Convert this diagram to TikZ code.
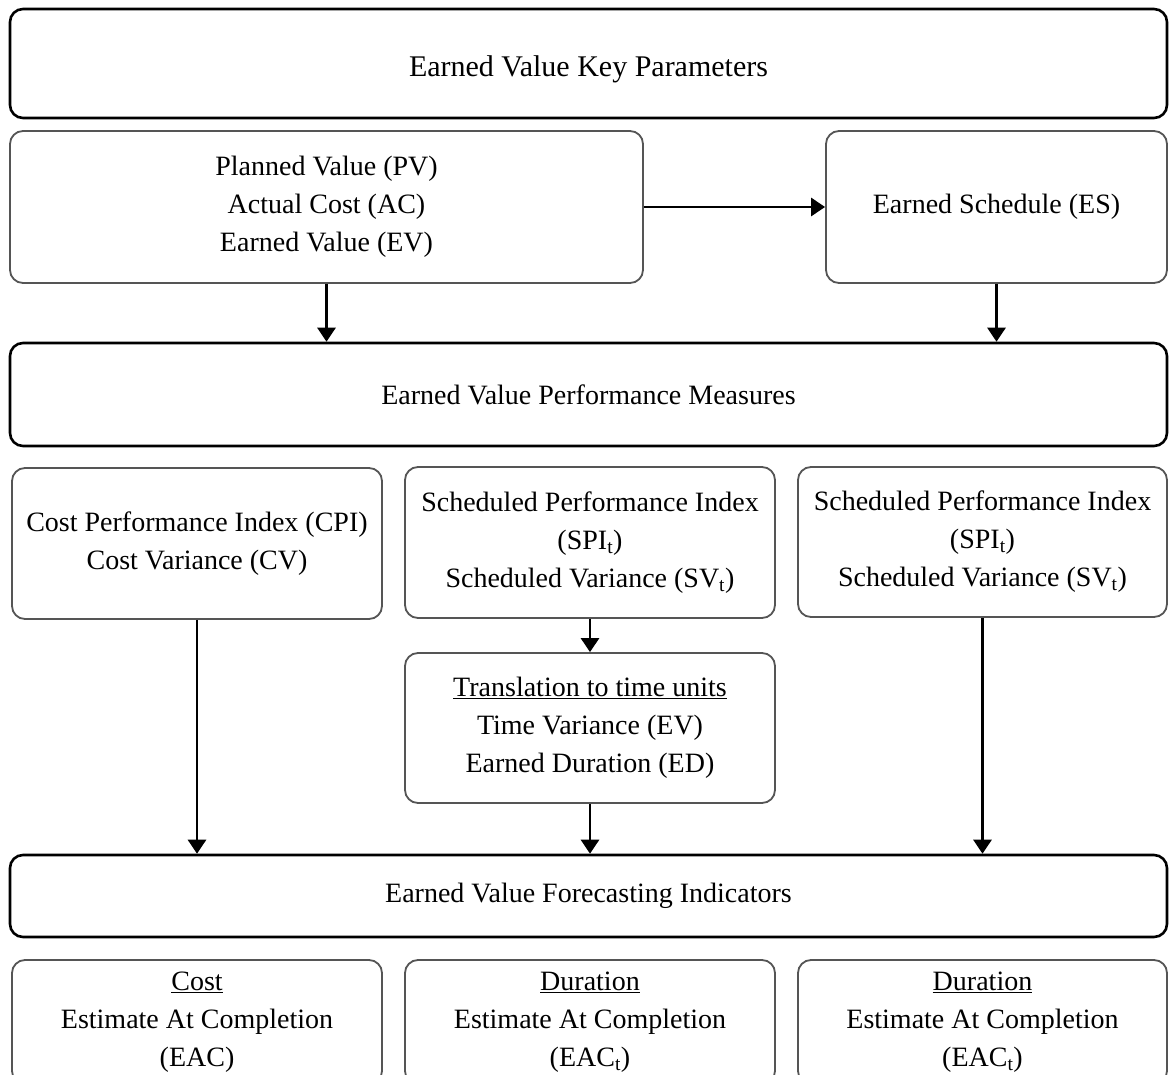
\documentclass[tikz,border=0pt]{standalone}
\usepackage{fontspec}
\setmainfont{Liberation Serif}
\usetikzlibrary{arrows.meta}
\definecolor{subedge}{HTML}{555555}
\tikzset{
  every node/.style={font=\fontsize{28}{38}\selectfont, align=center, inner sep=0pt},
  mainbox/.style={draw=black, line width=2.6pt, rounded corners=13pt},
  subbox/.style={draw=subedge, line width=1.8pt, rounded corners=13pt},
  flow/.style={line width=2.8pt, -{Triangle[length=14pt,width=18pt]}},
}
\begin{document}
\begin{tikzpicture}[x=1pt,y=-1pt]
\useasboundingbox (0,0) rectangle (1170,1075);
\fill[white] (0,0) rectangle (1170,1075);
\clip (0,0) rectangle (1170,1075);

% level headers
\node[mainbox, minimum width=1157pt, minimum height=109pt, text height=26pt, text depth=0pt,
      font=\fontsize{30}{38}\selectfont] (key) at (588.5,63.5) {Earned Value Key Parameters};
\node[mainbox, minimum width=1157pt, minimum height=103pt] (perf) at (588.5,394.5) {Earned Value Performance Measures};
\node[mainbox, minimum width=1157pt, minimum height=82pt]  (fore) at (588.5,896) {Earned Value Forecasting Indicators};

% key parameters
\node[subbox, minimum width=633pt, minimum height=152pt] (pv) at (326.5,207) {Planned Value (PV)\\Actual Cost (AC)\\Earned Value (EV)};
\node[subbox, minimum width=341pt, minimum height=152pt] (es) at (996.5,207) {Earned Schedule (ES)};

% performance measures
\node[subbox, minimum width=370pt, minimum height=151pt] (cpi)  at (197,543.5) {Cost Performance Index (CPI)\\Cost Variance (CV)};
\node[subbox, minimum width=370pt, minimum height=151pt] (spia) at (590,542.5) {Scheduled Performance Index\\(SPI\textsubscript{t})\\Scheduled Variance (SV\textsubscript{t})};
\node[subbox, minimum width=369pt, minimum height=150pt] (spib) at (982.5,542) {Scheduled Performance Index\\(SPI\textsubscript{t})\\Scheduled Variance (SV\textsubscript{t})};
\node[subbox, minimum width=370pt, minimum height=150pt] (trans) at (590,728) {\underline{Translation to time units}\\Time Variance (EV)\\Earned Duration (ED)};

% forecasting indicators
\node[subbox, minimum width=370pt, minimum height=124pt] (cost) at (197,1022) {\underline{Cost}\\Estimate At Completion\\(EAC)};
\node[subbox, minimum width=370pt, minimum height=124pt] (dura) at (590,1022) {\underline{Duration}\\Estimate At Completion\\(EAC\textsubscript{t})};
\node[subbox, minimum width=369pt, minimum height=124pt] (durb) at (982.5,1022) {\underline{Duration}\\Estimate At Completion\\(EAC\textsubscript{t})};

% connectors
\draw[flow] (pv.east) -- (es.west);
\draw[flow] (pv.south) -- (pv.south |- perf.north);
\draw[flow] (es.south) -- (es.south |- perf.north);
\draw[flow] (cpi.south) -- (cpi.south |- fore.north);
\draw[flow] (spia.south) -- (trans.north);
\draw[flow] (trans.south) -- (trans.south |- fore.north);
\draw[flow] (spib.south) -- (spib.south |- fore.north);
\end{tikzpicture}
\end{document}
